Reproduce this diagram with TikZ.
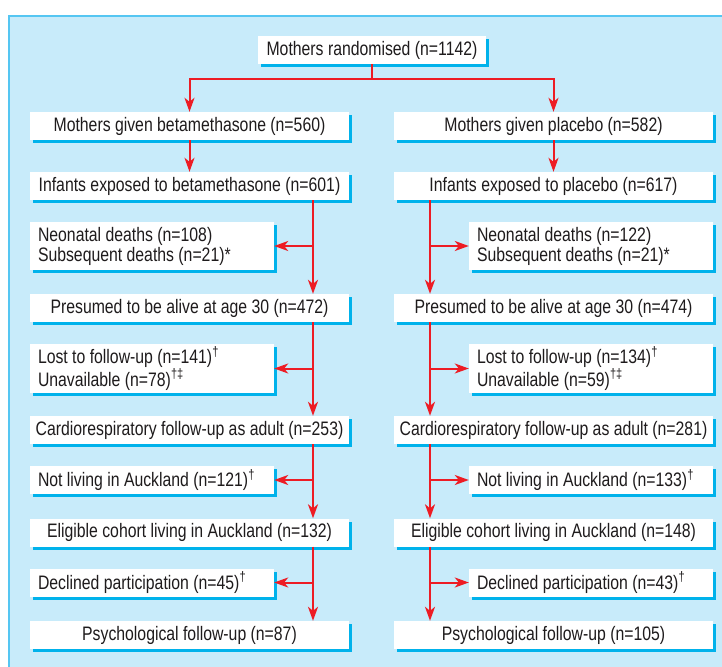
\documentclass[tikz,border=0pt]{standalone}
\usepackage{fontspec}
\setmainfont[FakeStretch=0.81]{Liberation Sans}
\usetikzlibrary{arrows.meta,shadows}
\definecolor{panel}{RGB}{200,235,250}
\definecolor{panelborder}{RGB}{85,198,242}
\definecolor{shad}{RGB}{0,178,235}
\definecolor{arrred}{RGB}{237,28,36}
\definecolor{txt}{RGB}{30,27,28}
\tikzset{
  basebox/.style={fill=white, text=txt, inner sep=0pt, minimum height=28pt,
    font=\fontsize{19.5}{20}\selectfont,
    drop shadow={shadow xshift=3pt, shadow yshift=-3pt, fill=shad, opacity=1}},
  mainbox/.style={basebox, minimum width=319pt, align=center},
  sidebox/.style={basebox, minimum width=244pt, text width=228pt, inner xsep=8pt, align=flush left},
  conn/.style={draw=arrred, line width=2pt},
  arr/.style={conn, -{Stealth[length=14pt,width=10pt,inset=4pt]}}
}
\begin{document}
\begin{tikzpicture}[x=1pt,y=-1pt]
\useasboundingbox (0,0) rectangle (722,666);
\fill[white] (0,0) rectangle (722,666);
\fill[panel] (8,15) rectangle (730,680);
\draw[panelborder, line width=2pt] (9,680) -- (9,16) -- (730,16);

\coordinate (L) at (313,0);
\coordinate (R) at (430,0);
\coordinate (split) at (372,79);

\node[basebox, minimum width=228pt] (rand) at (372,50) {Mothers randomised (n=1142)};

\node[mainbox] (motL) at (189.5,126) {Mothers given betamethasone (n=560)};
\node[mainbox] (motR) at (553.5,126) {Mothers given placebo (n=582)};

\node[mainbox] (infL) at (189.5,186) {Infants exposed to betamethasone (n=601)};
\node[mainbox] (infR) at (553.5,186) {Infants exposed to placebo (n=617)};

\node[sidebox, minimum height=48pt] (neoL) at (152,246) {Neonatal deaths (n=108)\\Subsequent deaths (n=21)*};
\node[sidebox, minimum height=48pt] (neoR) at (591,246) {Neonatal deaths (n=122)\\Subsequent deaths (n=21)*};

\node[mainbox] (preL) at (189.5,308) {Presumed to be alive at age 30 (n=472)};
\node[mainbox] (preR) at (553.5,308) {Presumed to be alive at age 30 (n=474)};

\node[sidebox, minimum height=49pt] (lostL) at (152,368.5) {Lost to follow-up (n=141)\textsuperscript{†}\\Unavailable (n=78)\textsuperscript{†‡}};
\node[sidebox, minimum height=49pt] (lostR) at (591,368.5) {Lost to follow-up (n=134)\textsuperscript{†}\\Unavailable (n=59)\textsuperscript{†‡}};

\node[mainbox] (carL) at (189.5,430) {Cardiorespiratory follow-up as adult (n=253)};
\node[mainbox] (carR) at (553.5,430) {Cardiorespiratory follow-up as adult (n=281)};

\node[sidebox] (notL) at (152,480) {Not living in Auckland (n=121)\textsuperscript{†}};
\node[sidebox] (notR) at (591,480) {Not living in Auckland (n=133)\textsuperscript{†}};

\node[mainbox] (eliL) at (189.5,532.5) {Eligible cohort living in Auckland (n=132)};
\node[mainbox] (eliR) at (553.5,532.5) {Eligible cohort living in Auckland (n=148)};

\node[sidebox] (decL) at (152,582.5) {Declined participation (n=45)\textsuperscript{†}};
\node[sidebox] (decR) at (591,582.5) {Declined participation (n=43)\textsuperscript{†}};

\node[mainbox] (psyL) at (189.5,635) {Psychological follow-up (n=87)};
\node[mainbox] (psyR) at (553.5,635) {Psychological follow-up (n=105)};

% top split
\draw[conn] (rand.south) -- (split);
\draw[arr] (split) -| (motL.north);
\draw[arr] (split) -| (motR.north);
\draw[arr] (motL) -- (infL);
\draw[arr] (motR) -- (infR);

% left column
\draw[arr] (infL.south -| L) -- (preL.north -| L);
\draw[arr] (neoL.east -| L) -- (neoL.east);
\draw[arr] (preL.south -| L) -- (carL.north -| L);
\draw[arr] (lostL.east -| L) -- (lostL.east);
\draw[arr] (carL.south -| L) -- (eliL.north -| L);
\draw[arr] (notL.east -| L) -- (notL.east);
\draw[arr] (eliL.south -| L) -- (psyL.north -| L);
\draw[arr] (decL.east -| L) -- (decL.east);

% right column
\draw[arr] (infR.south -| R) -- (preR.north -| R);
\draw[arr] (neoR.west -| R) -- (neoR.west);
\draw[arr] (preR.south -| R) -- (carR.north -| R);
\draw[arr] (lostR.west -| R) -- (lostR.west);
\draw[arr] (carR.south -| R) -- (eliR.north -| R);
\draw[arr] (notR.west -| R) -- (notR.west);
\draw[arr] (eliR.south -| R) -- (psyR.north -| R);
\draw[arr] (decR.west -| R) -- (decR.west);
\end{tikzpicture}
\end{document}
